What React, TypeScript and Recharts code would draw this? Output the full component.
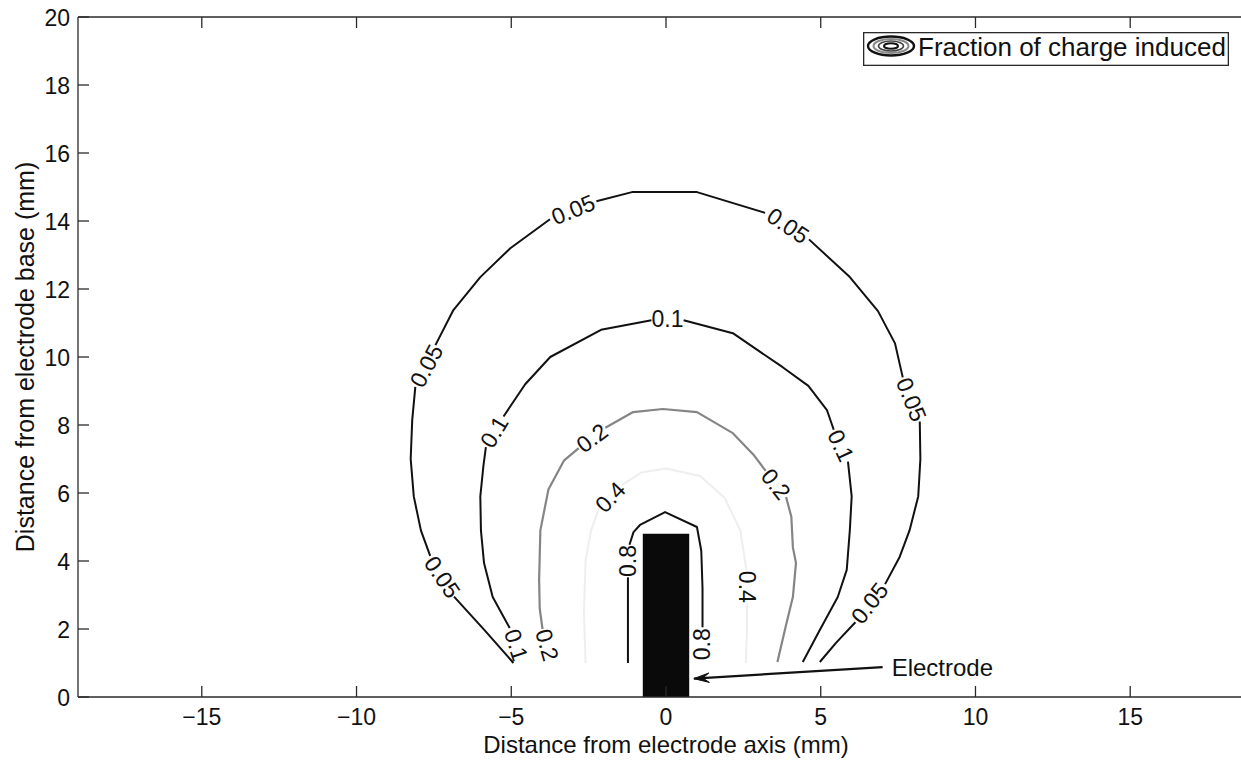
import React from 'react';
import {
  ComposedChart,
  Line,
  Scatter,
  XAxis,
  YAxis,
  ReferenceArea,
  ReferenceLine,
  Legend,
} from 'recharts';

const FONT = '"Liberation Sans", Arial, Helvetica, sans-serif';

// Axis ticks
const xTicks = [-15, -10, -5, 0, 5, 10, 15];
const yTicks = [0, 2, 4, 6, 8, 10, 12, 14, 16, 18, 20];

// Contour levels (fraction of charge induced)
const levels = [0.05, 0.1, 0.2, 0.4, 0.8];

// Contour polylines, split where the inline labels sit: [x (mm), y (mm)]
const contour005: number[][][] = [
  [[-4.93, 1.0], [-5.85, 1.95], [-6.85, 2.95]],
  [[-7.62, 4.15], [-7.92, 4.9], [-8.15, 5.9], [-8.25, 7.0], [-8.2, 8.15], [-8.1, 9.12]],
  [[-7.45, 10.35], [-6.87, 11.38], [-6.0, 12.35], [-5.03, 13.2], [-3.75, 14.05]],
  [[-2.25, 14.58], [-1.1, 14.85], [1.0, 14.85], [3.2, 14.24]],
  [[4.62, 13.46], [5.94, 12.35], [6.85, 11.35], [7.4, 10.4], [7.65, 9.4]],
  [[8.2, 8.1], [8.22, 7.0], [8.15, 5.9], [7.87, 4.9], [7.55, 4.12], [7.08, 3.32]],
  [[6.12, 2.2], [5.5, 1.6], [4.97, 1.03]],
];
const contour01: number[][][] = [
  [[-5.05, 2.03], [-5.6, 2.94], [-5.88, 3.94], [-5.98, 4.9], [-6.0, 5.9], [-5.9, 6.8], [-5.82, 7.35]],
  [[-5.25, 8.25], [-4.55, 9.2], [-3.74, 10.0], [-2.1, 10.8], [-0.47, 11.08]],
  [[0.57, 11.08], [2.16, 10.7], [3.77, 9.7], [4.6, 9.15], [5.2, 8.44], [5.42, 7.86]],
  [[5.88, 6.92], [6.0, 5.9], [5.94, 4.9], [5.84, 3.74], [5.55, 2.94], [4.97, 1.97], [4.42, 1.03]],
];
const contour02: number[][][] = [
  [[-3.99, 2.0], [-4.08, 2.6], [-4.1, 3.44], [-4.06, 4.9], [-3.8, 6.1], [-3.3, 6.95], [-2.82, 7.32]],
  [[-1.96, 7.92], [-1.06, 8.38], [-0.1, 8.47], [1.0, 8.38], [2.16, 7.76], [2.85, 7.1], [3.22, 6.65]],
  [[3.88, 5.88], [4.05, 5.3], [4.1, 4.4], [4.2, 3.94], [4.1, 2.94], [3.9, 2.2], [3.6, 1.03]],
];
const contour04: number[][][] = [
  [[-2.6, 1.0], [-2.65, 2.5], [-2.6, 4.0], [-2.42, 4.9], [-2.18, 5.52]],
  [[-1.42, 6.24], [-0.8, 6.6], [0, 6.72], [1.1, 6.5], [1.9, 5.85], [2.4, 4.9], [2.6, 3.74]],
  [[2.62, 2.74], [2.62, 2.0], [2.58, 1.0]],
];
const contour08: number[][][] = [
  [[-1.23, 1.0], [-1.23, 3.52]],
  [[-1.18, 4.48], [-1.05, 4.85], [-0.84, 5.06], [-0.03, 5.44], [1.0, 5.0], [1.14, 4.3], [1.18, 3.2], [1.18, 2.05]],
];
const contours = [contour005, contour01, contour02, contour04, contour08];

// Inline contour labels: [x, y, rotation in degrees]
const labels005 = [[-7.23, 3.53, 56], [-7.74, 9.74, -62], [-3.0, 14.33, -22], [3.94, 13.86, 34], [7.93, 8.75, 68], [6.58, 2.76, -52]];
const labels01 = [[-4.84, 1.53, 72], [-5.55, 7.8, -59], [0.05, 11.12, 0], [5.65, 7.39, 65]];
const labels02 = [[-3.84, 1.53, 74], [-2.39, 7.62, -37], [3.55, 6.26, 52]];
const labels04 = [[-1.8, 5.88, -46], [2.62, 3.24, 90]];
const labels08 = [[-1.23, 4.0, -90], [1.16, 1.55, -90]];
const contourLabels = [labels005, labels01, labels02, labels04, labels08];

// Electrode body and its pointer
const electrode = { x1: -0.75, x2: 0.75, y1: 0, y2: 4.8 };
const pointerTail = { x: 7.0, y: 0.88 };
const pointerTip = { x: 0.9, y: 0.54 };
const pointerText = 'Electrode';

const xTitle = 'Distance from electrode axis (mm)';
const yTitle = 'Distance from electrode base (mm)';
const legendText = 'Fraction of charge induced';

const lineColors = ['#111111', '#111111', '#858585', '#eeeeee', '#111111'];
const AXIS = '#2a2a2a';

const fmt = (v: number) => (v < 0 ? `\u2212${Math.abs(v)}` : `${v}`);

const BottomTick = (p: any) => (
  <g>
    <line x1={p.x} x2={p.x} y1={p.y} y2={p.y - 11} stroke={AXIS} strokeWidth={1.3} />
    <text x={p.x} y={p.y + 28} textAnchor="middle" fontFamily={FONT} fontSize={23} fill="#111">
      {fmt(p.payload.value)}
    </text>
  </g>
);

const TopTick = (p: any) => (
  <line x1={p.x} x2={p.x} y1={p.y} y2={p.y + 11} stroke={AXIS} strokeWidth={1.3} />
);

const LeftTick = (p: any) => (
  <g>
    <line x1={p.x} x2={p.x + 11} y1={p.y} y2={p.y} stroke={AXIS} strokeWidth={1.3} />
    <text x={p.x - 8} y={p.y + 9} textAnchor="end" fontFamily={FONT} fontSize={23} fill="#111">
      {fmt(p.payload.value)}
    </text>
  </g>
);

const XTitle = (p: any) => {
  const vb = p.viewBox;
  return (
    <text x={vb.x + vb.width / 2} y={vb.y + 56} textAnchor="middle" fontFamily={FONT} fontSize={24} fill="#111">
      {xTitle}
    </text>
  );
};

const YTitle = (p: any) => {
  const vb = p.viewBox;
  const cx = vb.x + vb.width - 44;
  const cy = vb.y + vb.height / 2;
  return (
    <text x={cx} y={cy} transform={`rotate(-90 ${cx} ${cy})`} textAnchor="middle" fontFamily={FONT} fontSize={25} fill="#111">
      {yTitle}
    </text>
  );
};

const ContourLabel = (p: any) => {
  const { cx, cy, payload } = p;
  return (
    <text
      x={cx}
      y={cy}
      dy={8}
      textAnchor="middle"
      transform={`rotate(${payload.angle} ${cx} ${cy})`}
      fontFamily={FONT}
      fontSize={23}
      fill="#111"
    >
      {payload.text}
    </text>
  );
};

const Pointer = (p: any) => {
  const { x1, y1, x2, y2 } = p;
  const ang = Math.atan2(y1 - y2, x1 - x2);
  const len = 16;
  const spread = 0.3;
  const ax = x2 + len * Math.cos(ang + spread);
  const ay = y2 + len * Math.sin(ang + spread);
  const bx = x2 + len * Math.cos(ang - spread);
  const by = y2 + len * Math.sin(ang - spread);
  return (
    <g>
      <line x1={x1} y1={y1} x2={x2} y2={y2} stroke="#111" strokeWidth={2.2} />
      <polygon points={`${x2},${y2} ${ax},${ay} ${x2 + 9 * Math.cos(ang)},${y2 + 9 * Math.sin(ang)} ${bx},${by}`} fill="#111" stroke="#111" strokeWidth={1} />
      <text x={x1 + 9} y={y1 + 8.5} fontFamily={FONT} fontSize={24} fill="#111">
        {pointerText}
      </text>
    </g>
  );
};

const LegendBox = () => (
  <svg width={366} height={34} style={{ display: 'block' }}>
    <rect x={0.65} y={0.65} width={364.7} height={32.7} fill="#fff" stroke={AXIS} strokeWidth={1.3} />
    <g transform="translate(28 14)">
      <ellipse cx={0} cy={0} rx={23} ry={9.5} fill="none" stroke="#111" strokeWidth={2.4} />
      <ellipse cx={0} cy={0} rx={17.5} ry={7} fill="none" stroke="#8a8a8a" strokeWidth={2} />
      <ellipse cx={0} cy={0} rx={12.5} ry={5} fill="none" stroke="#444" strokeWidth={1.6} />
      <ellipse cx={0} cy={0} rx={7} ry={2.8} fill="none" stroke="#111" strokeWidth={2} />
    </g>
    <text x={55} y={24} fontFamily={FONT} fontSize={26} fill="#111">
      {legendText}
    </text>
  </svg>
);

export default function App() {
  const labelData = contourLabels.flatMap((group, gi) =>
    group.map(([x, y, angle]) => ({ x, y, angle, text: String(levels[gi]) })),
  );

  return (
    <div style={{ position: 'absolute', left: 0, top: 0, width: 1241, height: 762, overflow: 'hidden', background: '#fff' }}>
      <ComposedChart
        width={1300}
        height={762}
        margin={{ top: 0, right: 46, bottom: 0, left: 0 }}
      >
        <XAxis
          xAxisId="b"
          dataKey="x"
          type="number"
          domain={[-19, 19]}
          ticks={xTicks}
          interval={0}
          allowDataOverflow
          height={65}
          tickSize={0}
          tickMargin={0}
          tickLine={false}
          axisLine={{ stroke: AXIS, strokeWidth: 1.3 }}
          tick={BottomTick}
          label={{ content: XTitle }}
        />
        <XAxis
          xAxisId="t"
          orientation="top"
          dataKey="x"
          type="number"
          domain={[-19, 19]}
          ticks={xTicks}
          interval={0}
          allowDataOverflow
          height={17}
          tickSize={0}
          tickMargin={0}
          tickLine={false}
          axisLine={{ stroke: AXIS, strokeWidth: 1.3 }}
          tick={TopTick}
        />
        <YAxis
          yAxisId="l"
          dataKey="y"
          type="number"
          domain={[0, 20]}
          ticks={yTicks}
          interval={0}
          allowDataOverflow
          width={78}
          tickSize={0}
          tickMargin={0}
          tickLine={false}
          axisLine={{ stroke: AXIS, strokeWidth: 1.3 }}
          tick={LeftTick}
          label={{ content: YTitle }}
        />

        <ReferenceArea
          xAxisId="b"
          yAxisId="l"
          x1={electrode.x1}
          x2={electrode.x2}
          y1={electrode.y1}
          y2={electrode.y2}
          fill="#0a0a0a"
          fillOpacity={1}
          stroke="none"
          ifOverflow="visible"
        />

        {contours.map((segs, ci) =>
          segs.map((seg, si) => (
            <Line
              key={`c${ci}-${si}`}
              xAxisId="b"
              yAxisId="l"
              data={seg.map(([x, y]) => ({ x, y }))}
              dataKey="y"
              type="linear"
              stroke={lineColors[ci]}
              strokeWidth={ci === 2 ? 2.2 : 2}
              strokeLinejoin="round"
              dot={false}
              activeDot={false}
              legendType="none"
              isAnimationActive={false}
            />
          )),
        )}

        <Scatter
          xAxisId="b"
          yAxisId="l"
          data={labelData}
          shape={ContourLabel}
          legendType="none"
          isAnimationActive={false}
        />

        <ReferenceLine
          xAxisId="b"
          yAxisId="l"
          segment={[pointerTail, pointerTip]}
          shape={Pointer}
          ifOverflow="visible"
        />

        <Legend
          layout="horizontal"
          verticalAlign="middle"
          align="center"
          content={LegendBox}
          wrapperStyle={{ position: 'absolute', left: 863, top: 32, width: 366, height: 34 }}
        />
      </ComposedChart>
    </div>
  );
}
